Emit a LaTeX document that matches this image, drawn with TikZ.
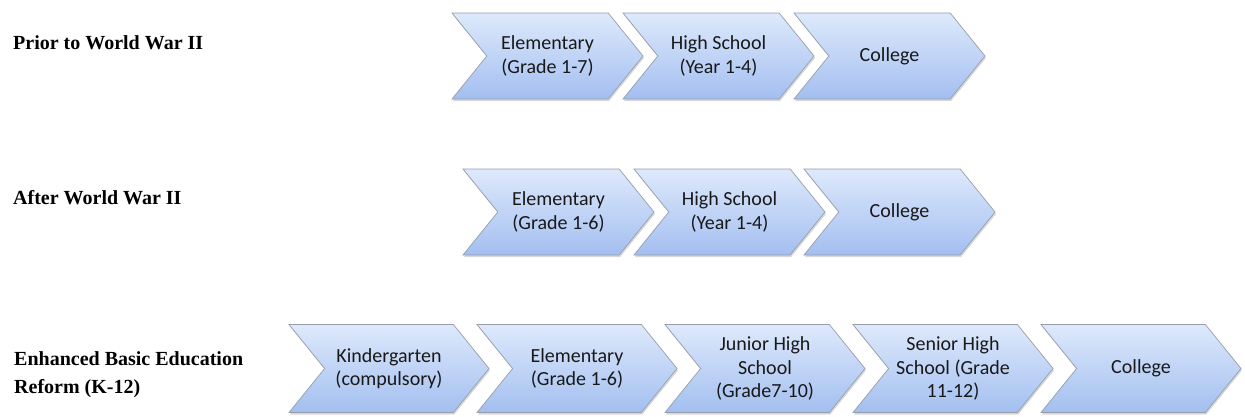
\documentclass[tikz,border=0pt]{standalone}
\usepackage{fontspec}
\setmainfont{Carlito}
\newfontfamily\labelfont{Liberation Serif}
\usetikzlibrary{shapes.symbols,shadows}
\definecolor{chevtop}{RGB}{222,233,252}
\definecolor{chevbot}{RGB}{163,191,240}
\definecolor{chevline}{RGB}{150,158,170}
\definecolor{txt}{RGB}{25,25,25}
\tikzset{
 chev/.style={signal, signal to=east, signal from=west, signal pointer angle=102,
   draw=chevline, line width=0.7pt, top color=chevtop, bottom color=chevbot,
   minimum height=86pt, minimum width=191pt, inner sep=0pt, align=center,
   font=\fontsize{20}{23.5}\selectfont, text=txt,
   drop shadow={opacity=0.3, shadow xshift=1pt, shadow yshift=-2pt}},
 chevwide/.style={chev, minimum height=88pt, minimum width=200pt},
 rowlabel/.style={font=\labelfont\bfseries\fontsize{20}{28}\selectfont, text=black,
   anchor=base west, inner sep=0pt, align=left}
}
\begin{document}
\begin{tikzpicture}[x=1pt,y=-1pt]
\useasboundingbox[fill=white] (0,0) rectangle (1245,416);
% row labels
\node[rowlabel] (l1) at (13,49) {Prior to World War II};
\node[rowlabel] (l2) at (13,204) {After World War II};
\node[rowlabel] (l3) at (14,393) {Enhanced Basic Education\\Reform (K-12)};
% row 1
\node[chev] (a1) at (547.5,56) {Elementary\\(Grade 1-7)};
\node[chev] (a2) at (718.5,56) {High School\\(Year 1-4)};
\node[chev] (a3) at (889.5,56) {College};
% row 2
\node[chev] (b1) at (558.5,212) {Elementary\\(Grade 1-6)};
\node[chev] (b2) at (729.5,212) {High School\\(Year 1-4)};
\node[chev] (b3) at (899.5,212) {College};
% row 3
\node[chevwide] (c1) at (389,368.5) {Kindergarten\\(compulsory)};
\node[chevwide] (c2) at (577,368.5) {Elementary\\(Grade 1-6)};
\node[chevwide] (c3) at (765,368.5) {Junior High\\School\\(Grade7-10)};
\node[chevwide] (c4) at (953,368.5) {Senior High\\School (Grade\\11-12)};
\node[chevwide] (c5) at (1141,368.5) {College};
\end{tikzpicture}
\end{document}
